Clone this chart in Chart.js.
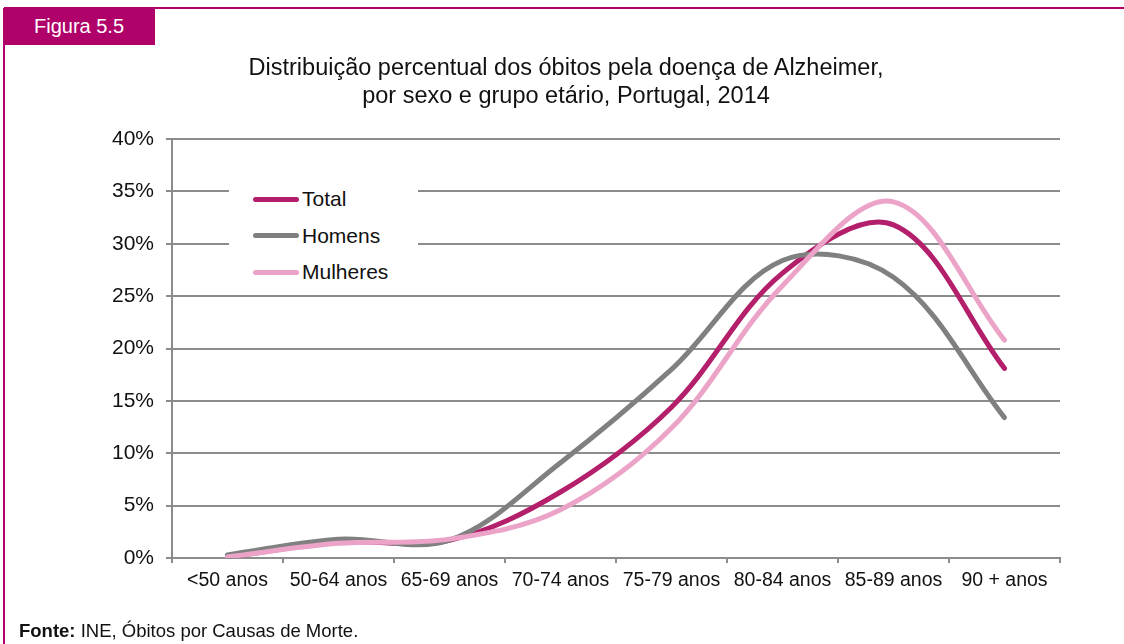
<!DOCTYPE html>
<html lang="pt">
<head>
  <meta charset="UTF-8" />
  <title>Figura 5.5</title>
  <style>
    body { margin: 0; background: #fff; font-family: "Liberation Sans", Arial, sans-serif; }
    #frame { position: relative; width: 1124px; height: 644px; overflow: hidden; }
    #topline { position: absolute; left: 4px; top: 7px; width: 1120px; height: 2px; background: #b0006a; }
    #leftline { position: absolute; left: 3px; top: 8px; width: 2px; height: 636px; background: #b0006a; }
    #tab { position: absolute; left: 3px; top: 8px; width: 152px; height: 37px; background: #b0006a;
           color: #fff; font-size: 20px; line-height: 37px; text-align: center; }
    #title { position: absolute; left: 0; width: 1132px; top: 53px; text-align: center;
             font-size: 23.5px; line-height: 28px; color: #111; }
    #chartBox { position: absolute; left: 0; top: 0; }
    #legend { position: absolute; left: 229px; top: 181px; width: 189px; height: 108px; background: #fff; }
    .item { position: absolute; left: 24px; height: 26px; font-size: 21px; color: #111; line-height: 26px; white-space: nowrap; }
    .item span.swatch { display: inline-block; width: 46px; height: 5px; border-radius: 3px;
                        vertical-align: middle; margin-right: 3px; position: relative; top: -1px; }
    #source { position: absolute; left: 19px; top: 620px; font-size: 18.5px; color: #111; }
  </style>
</head>
<body>
<div id="frame">
  <div id="topline"></div>
  <div id="leftline"></div>
  <div id="tab">Figura 5.5</div>
  <div id="chartBox"><canvas id="chart" width="1124" height="644"></canvas></div>
  <div id="title">Distribuição percentual dos óbitos pela doença de Alzheimer,<br>por sexo e grupo etário, Portugal, 2014</div>
  <div id="legend"></div>
  <div id="source"><b>Fonte:</b> INE, Óbitos por Causas de Morte.</div>
</div>
<script src="https://cdn.jsdelivr.net/npm/chart.js"></script>
<script type="text/javascript">
  // Grupos etários
  const categories = ["<50 anos", "50-64 anos", "65-69 anos", "70-74 anos", "75-79 anos", "80-84 anos", "85-89 anos", "90 + anos"];
  // Percentagem de óbitos (%)
  const total = [0.1, 1.5, 1.7, 6.3, 14.4, 27.2, 31.8, 18.1];
  const homens = [0.3, 1.8, 1.7, 9.1, 18.0, 28.4, 26.8, 13.4];
  const mulheres = [0.1, 1.4, 1.8, 4.6, 12.4, 26.0, 34.0, 20.8];
  const yTicks = [0, 5, 10, 15, 20, 25, 30, 35, 40];

  const gridColor = "#8c8c8c";
  const fontX = { family: "'Liberation Sans', Arial, sans-serif", size: 19.5 };
  const fontY = { family: "'Liberation Sans', Arial, sans-serif", size: 21 };

  const series = [
    { label: "Total", data: total, color: "#b41f6b", order: 3 },
    { label: "Homens", data: homens, color: "#808080", order: 2 },
    { label: "Mulheres", data: mulheres, color: "#eca3c8", order: 1 }
  ];

  const chart = new Chart(document.getElementById("chart"), {
    type: "line",
    data: {
      labels: categories,
      datasets: series.map(s => ({
        label: s.label,
        data: s.data,
        borderColor: s.color,
        backgroundColor: s.color,
        borderWidth: 5,
        borderCapStyle: "round",
        pointRadius: 0,
        tension: 0.35,
        order: s.order
      }))
    },
    options: {
      responsive: false,
      animation: false,
      layout: { padding: { left: 0, top: 139, right: 64, bottom: 0 } },
      plugins: { legend: { display: false }, tooltip: { enabled: false } },
      scales: {
        x: {
          offset: true,
          grid: { offset: true, drawOnChartArea: false, drawTicks: true, tickLength: 5, color: gridColor, lineWidth: 2 },
          border: { color: gridColor, width: 2 },
          ticks: { color: "#111", font: fontX, padding: 6, maxRotation: 0, autoSkip: false },
          afterFit: s => { s.height = 86; }
        },
        y: {
          min: 0,
          max: 40,
          afterBuildTicks: s => { s.ticks = yTicks.map(v => ({ value: v })); },
          grid: { color: gridColor, lineWidth: 2, tickLength: 6 },
          border: { color: gridColor, width: 2 },
          ticks: { color: "#111", font: fontY, padding: 12, callback: v => v + "%" },
          afterFit: s => { s.width = 172; }
        }
      }
    }
  });

  // Legenda desenhada a partir dos datasets
  const legend = document.getElementById("legend");
  chart.data.datasets.forEach((ds, i) => {
    const div = document.createElement("div");
    div.className = "item";
    div.style.top = (5 + i * 36.5) + "px";
    div.innerHTML = '<span class="swatch" style="background:' + ds.borderColor + '"></span>' + ds.label;
    legend.appendChild(div);
  });
</script>
</body>
</html>
